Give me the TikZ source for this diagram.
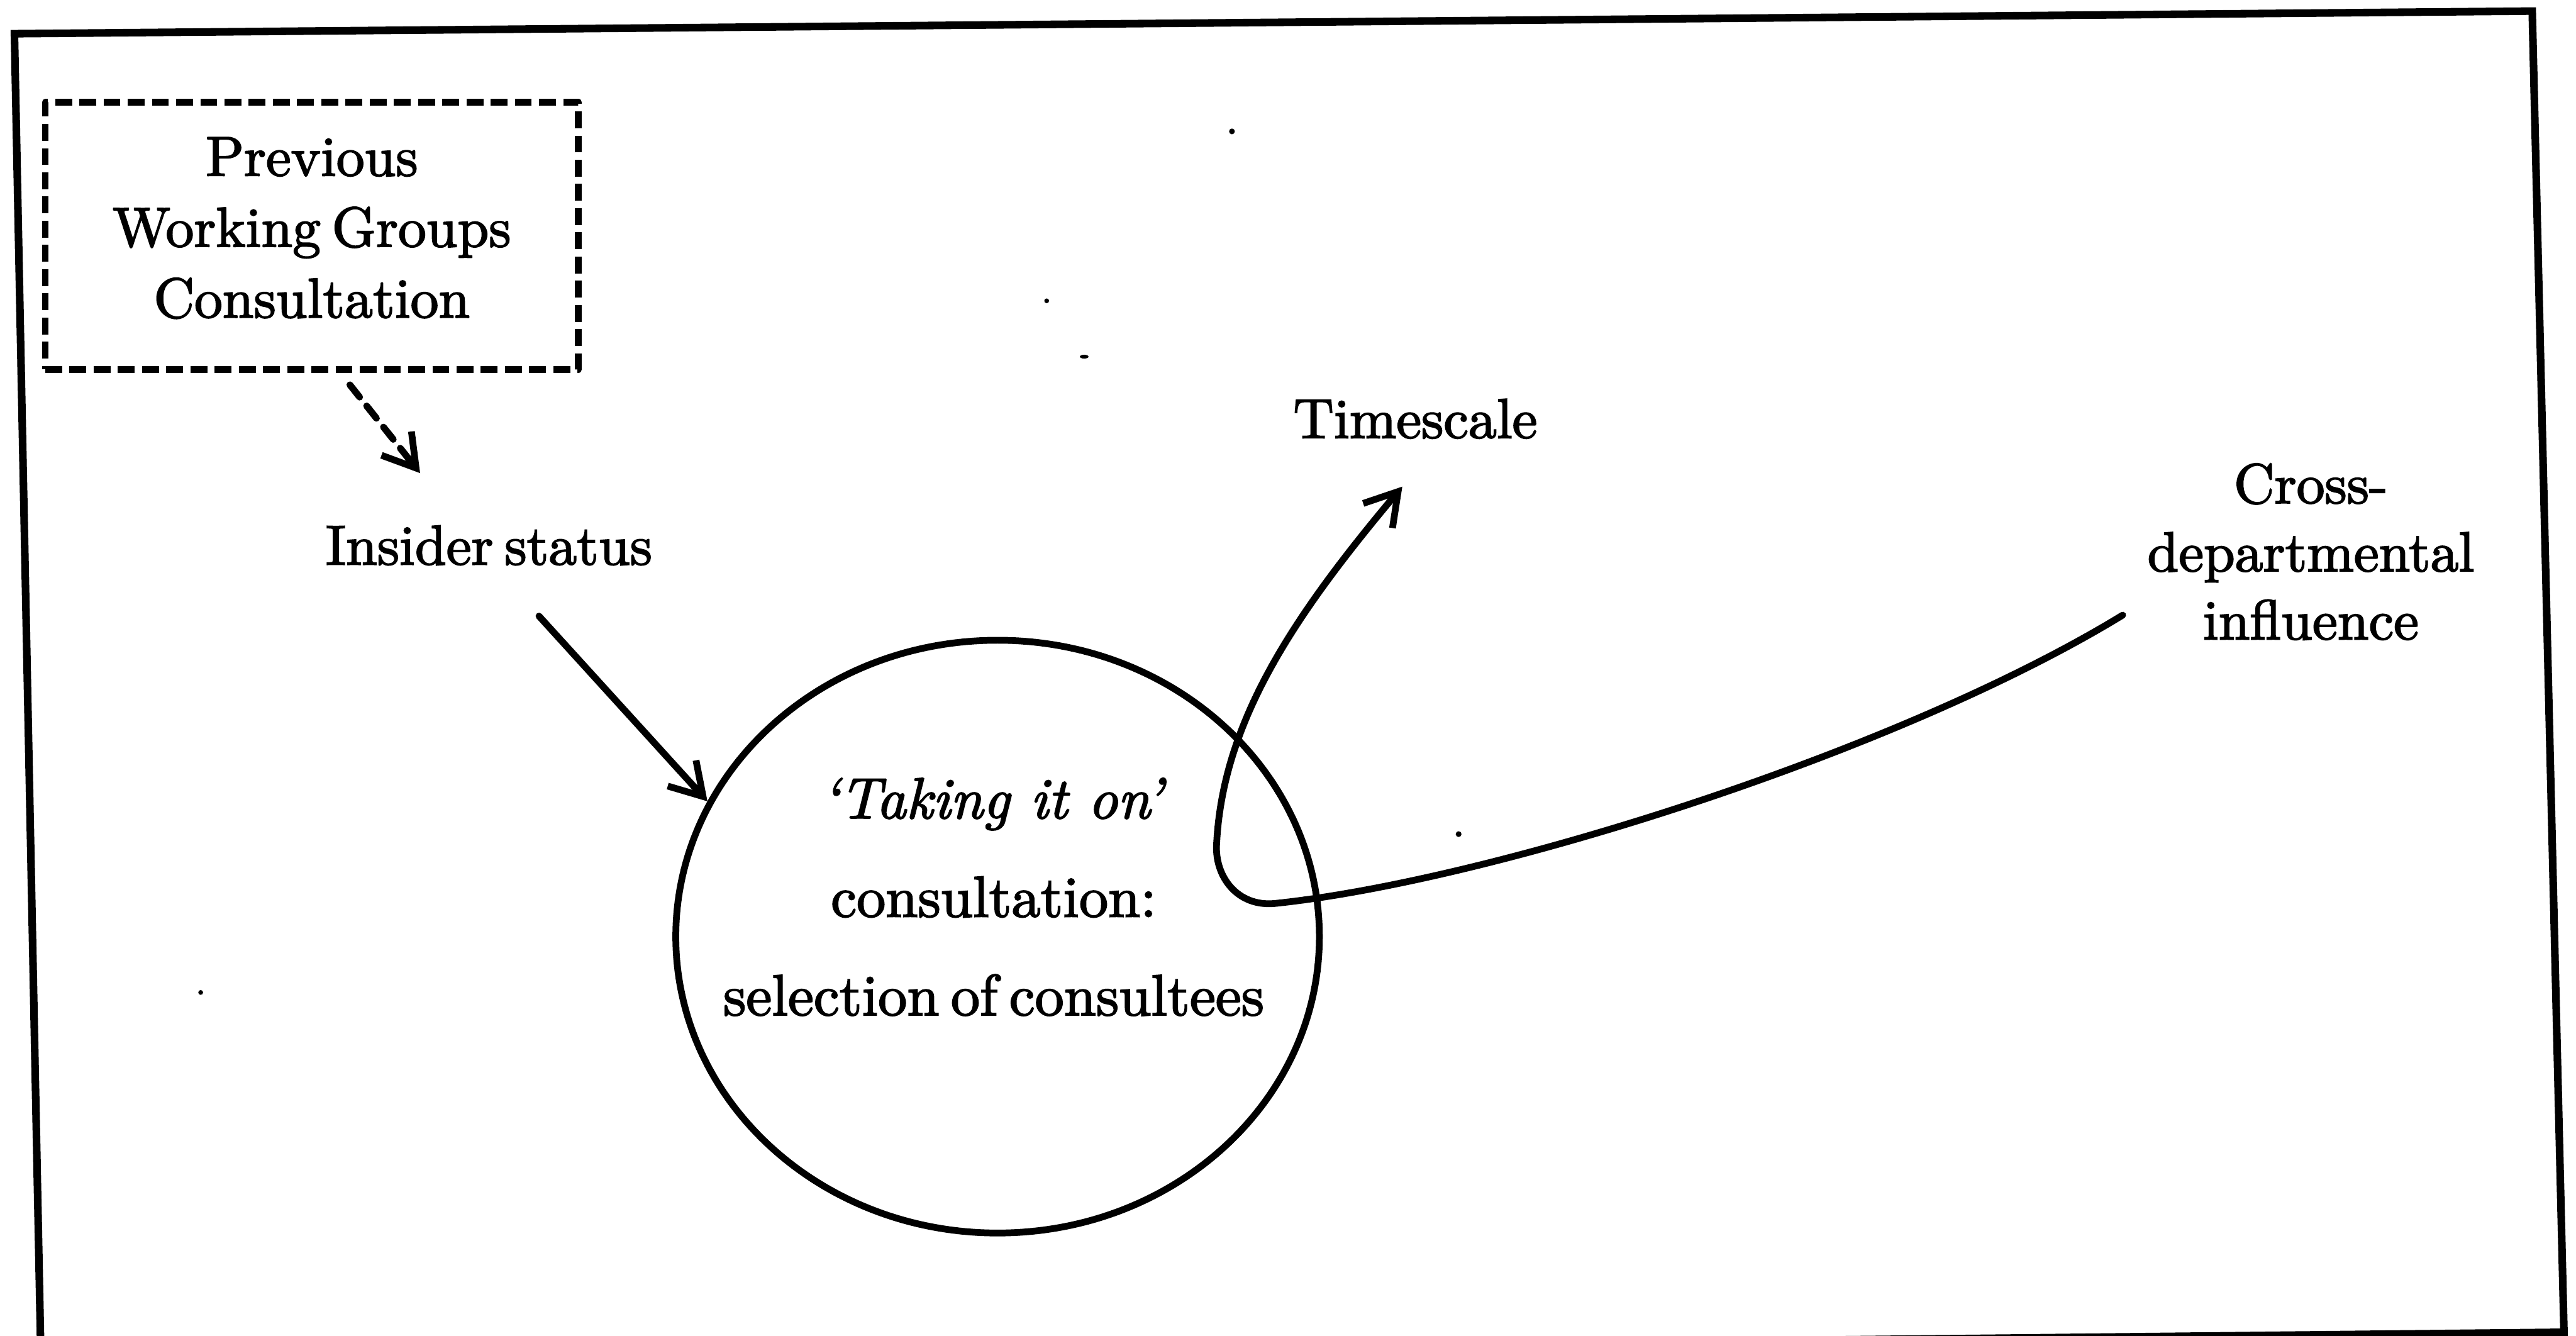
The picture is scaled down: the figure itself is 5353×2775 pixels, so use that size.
\documentclass[tikz,border=0pt]{standalone}
\usepackage{fontspec}
\setmainfont{lmroman10-regular}[Extension=.otf, ItalicFont=lmroman10-italic, FakeBold=2.2]
\usetikzlibrary{arrows.meta,shapes.geometric}

\tikzset{
  ln/.style={line width=1.2pt, line cap=round, line join=round},
  framest/.style={line width=1.35pt, line join=miter},
  tip/.style={-{Straight Barb[length=5.6pt,width=6.8pt]}},
  dashst/.style={dash pattern=on 3pt off 1.3pt},
  dasharrow/.style={dash pattern=on 2.8pt off 2pt},
  lbl/.style={inner sep=0pt, align=center, font=\fontsize{10}{12.5}\selectfont},
  boxst/.style={draw, ln, dashst, line cap=butt, inner sep=0pt, align=center,
    minimum width=3.33cm, minimum height=1.668cm, font=\fontsize{10}{12.6}\selectfont},
  ringst/.style={draw, ln, ellipse, inner sep=0pt,
    minimum width=4.02cm, minimum height=3.702cm},
  speck/.style={fill=black}
}

\begin{document}
\begin{tikzpicture}[x=0.003cm, y=-0.003cm]
  \useasboundingbox (0,0) rectangle (5353,2775);
  \fill[white] (0,0) rectangle (5353,2775);

  % outer frame, its lower edge runs off the page
  \begin{scope}
    \clip (0,0) rectangle (5353,2775);
    \draw[framest] (30,70) -- (5262,23) -- (5328,2768) -- (85,2823) -- cycle;
  \end{scope}

  % labels
  \node[boxst] (prev) at (648,490)
    {Previous\\Working\hspace{0.2em}Groups\\Consultation\rule[-3pt]{0pt}{0pt}};
  \node[lbl, anchor=base] (ins) at (1016,1173) {Insider\hspace{0.2em}status};
  \node[lbl, anchor=base] (time) at (2941,910) {Timescale};
  \node[lbl, anchor=south, font=\fontsize{10}{12.1}\selectfont] (cross) at (4802,1332)
    {Cross-\\departmental\\influence};

  % central consultation ellipse
  \node[ringst] (circ) at (2073,1946) {};
  \node[lbl, anchor=south, font=\fontsize{10.3}{17.5}\selectfont] (ctext) at (2065,2113)
    {\textit{`Taking it on'}\\consultation:\\selection\hspace{0.2em}of\hspace{0.2em}consultees};

  % connectors
  \draw[ln, dasharrow, tip] ([shift={(79,25)}]prev.south) -- ([shift={(-143,-190)}]ins.base);
  \draw[ln, tip] ([shift={(104,107)}]ins.base) -- (circ.155);
  \draw[ln, tip] ([shift={(-391,-54)}]cross.south)
    .. controls (3950,1560) and (3100,1830) .. (2650,1877)
    .. controls (2570,1885) and (2525,1820) .. (2528,1756)
    .. controls (2540,1500) and (2688,1280) .. ([shift={(-27,101)}]time.base);

  % specks on the sheet
  \fill[speck] (2560,273) circle[radius=6];
  \fill[speck] (2175,625) circle[radius=5];
  \fill[speck] (2253,741) ellipse[x radius=9, y radius=4];
  \fill[speck] (3031,1733) circle[radius=6];
  \fill[speck] (417,2062) circle[radius=5];
\end{tikzpicture}
\end{document}
